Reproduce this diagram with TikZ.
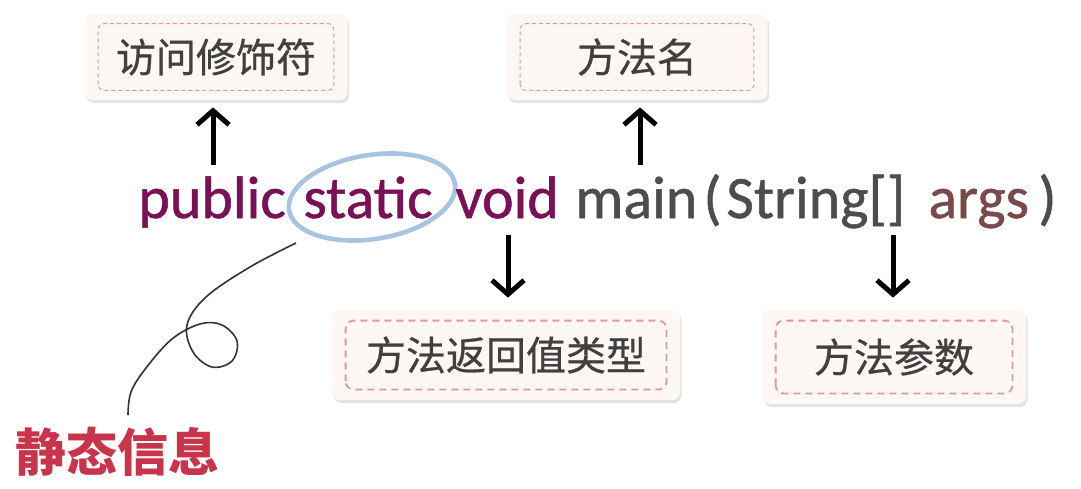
\documentclass[tikz,border=0pt]{standalone}
\usepackage{fontspec}
\setmainfont{Carlito}
\newfontfamily\cjkfont{Noto Sans CJK SC}
\newfontfamily\codefont[FakeBold=0.9]{Carlito}
\newfontfamily\boxfont[FakeBold=0.6]{Noto Sans CJK SC}
\usetikzlibrary{calc,positioning,arrows.meta,shadows}
\definecolor{kwpurple}{RGB}{122,16,86}
\definecolor{codegray}{RGB}{77,77,77}
\definecolor{argbrown}{RGB}{122,74,74}
\definecolor{boxfill}{RGB}{253,248,243}
\definecolor{dashred}{RGB}{232,150,150}
\definecolor{ringblue}{RGB}{168,196,226}
\definecolor{notered}{RGB}{200,52,74}
\definecolor{labelgray}{RGB}{64,64,64}

\begin{document}
\begin{tikzpicture}[x=0.5pt,y=-0.5pt,
    tagbox/.style={rounded corners=4pt,fill=boxfill,inner sep=0pt,
      drop shadow={opacity=0.22,shadow xshift=0.8pt,shadow yshift=-1.5pt},
      text=labelgray,font=\boxfont\fontsize{20pt}{24pt}\selectfont},
    thindash/.style={dashred,line width=0.5pt,dash pattern=on 2pt off 1.5pt,rounded corners=3pt},
    thickdash/.style={dashred,line width=0.9pt,dash pattern=on 3.5pt off 2.5pt,rounded corners=4pt},
    code/.style={anchor=base west,inner sep=0pt,font=\codefont\fontsize{30pt}{36pt}\selectfont},
    arr/.style={line width=2.5pt,-{Straight Barb[length=7pt,width=16pt]}}]
  \fill[white,use as bounding box] (0,0) rectangle (1081,488);

  % ring round static
  \draw[ringblue,line width=2.3pt,rotate around={9:(372,197)}]
        (372,197) ellipse [x radius=84, y radius=42];

  % code line
  \node[code,text=kwpurple] (pub) at (138,218) {public};
  \node[code,text=kwpurple] (stat) at (303,218) {static};
  \node[code,text=kwpurple] (vd) at (455,218) {void};
  \node[code,text=codegray] (mn) at (575,218) {main};
  \node[code,text=codegray] (lp) at (703,218) {(};
  \node[code,text=codegray] (str) at (726,218) {String[]};
  \node[code,text=argbrown] (arg) at (928,218) {args};
  \node[code,text=codegray] (rp) at (1038,218) {)};

  % boxes
  \node[tagbox,minimum width=131.5pt,minimum height=43pt] (acc) at (216,57) {访问修饰符};
  \node[tagbox,minimum width=130.5pt,minimum height=43pt] (mname) at (637,57) {方法名};
  \node[tagbox,minimum width=174pt,minimum height=45pt] (ret) at (506,355) {方法返回值类型};
  \node[tagbox,minimum width=132pt,minimum height=47pt] (par) at (894,357) {方法参数};
  \foreach \b in {acc,mname}
    \draw[thindash] ($(\b.south west)+(14,-10)$) rectangle ($(\b.north east)+(-14,10)$);
  \foreach \b in {ret,par}
    \draw[thickdash] ($(\b.south west)+(14,-11)$) rectangle ($(\b.north east)+(-14,11)$);

  % arrows
  \coordinate (t1) at (213,165);
  \coordinate (t2) at (640,165);
  \coordinate (t3) at (508,235);
  \coordinate (t4) at (893,235);
  \draw[arr,shorten >=3.5pt] (t1) -- (t1 |- acc.south);
  \draw[arr,shorten >=3.5pt] (t2) -- (t2 |- mname.south);
  \draw[arr,shorten >=6pt] (t3) -- (t3 |- ret.north);
  \draw[arr,shorten >=6pt] (t4) -- (t4 |- par.north);

  % note
  \node[text=notered,font=\cjkfont\bfseries\fontsize{25.5pt}{30pt}\selectfont] (info) at (118,452) {静态信息};
  \coordinate (loopstart) at (296,243);
  \draw[black!80,line width=0.8pt] plot[smooth,tension=0.6] coordinates {(loopstart) (250,267) (206,297) (187,325) (193,352) (212,367) (232,361) (237,341) (222,325) (200,324) (172,339) (146,368) (131,392) (128,415)};
\end{tikzpicture}
\end{document}
